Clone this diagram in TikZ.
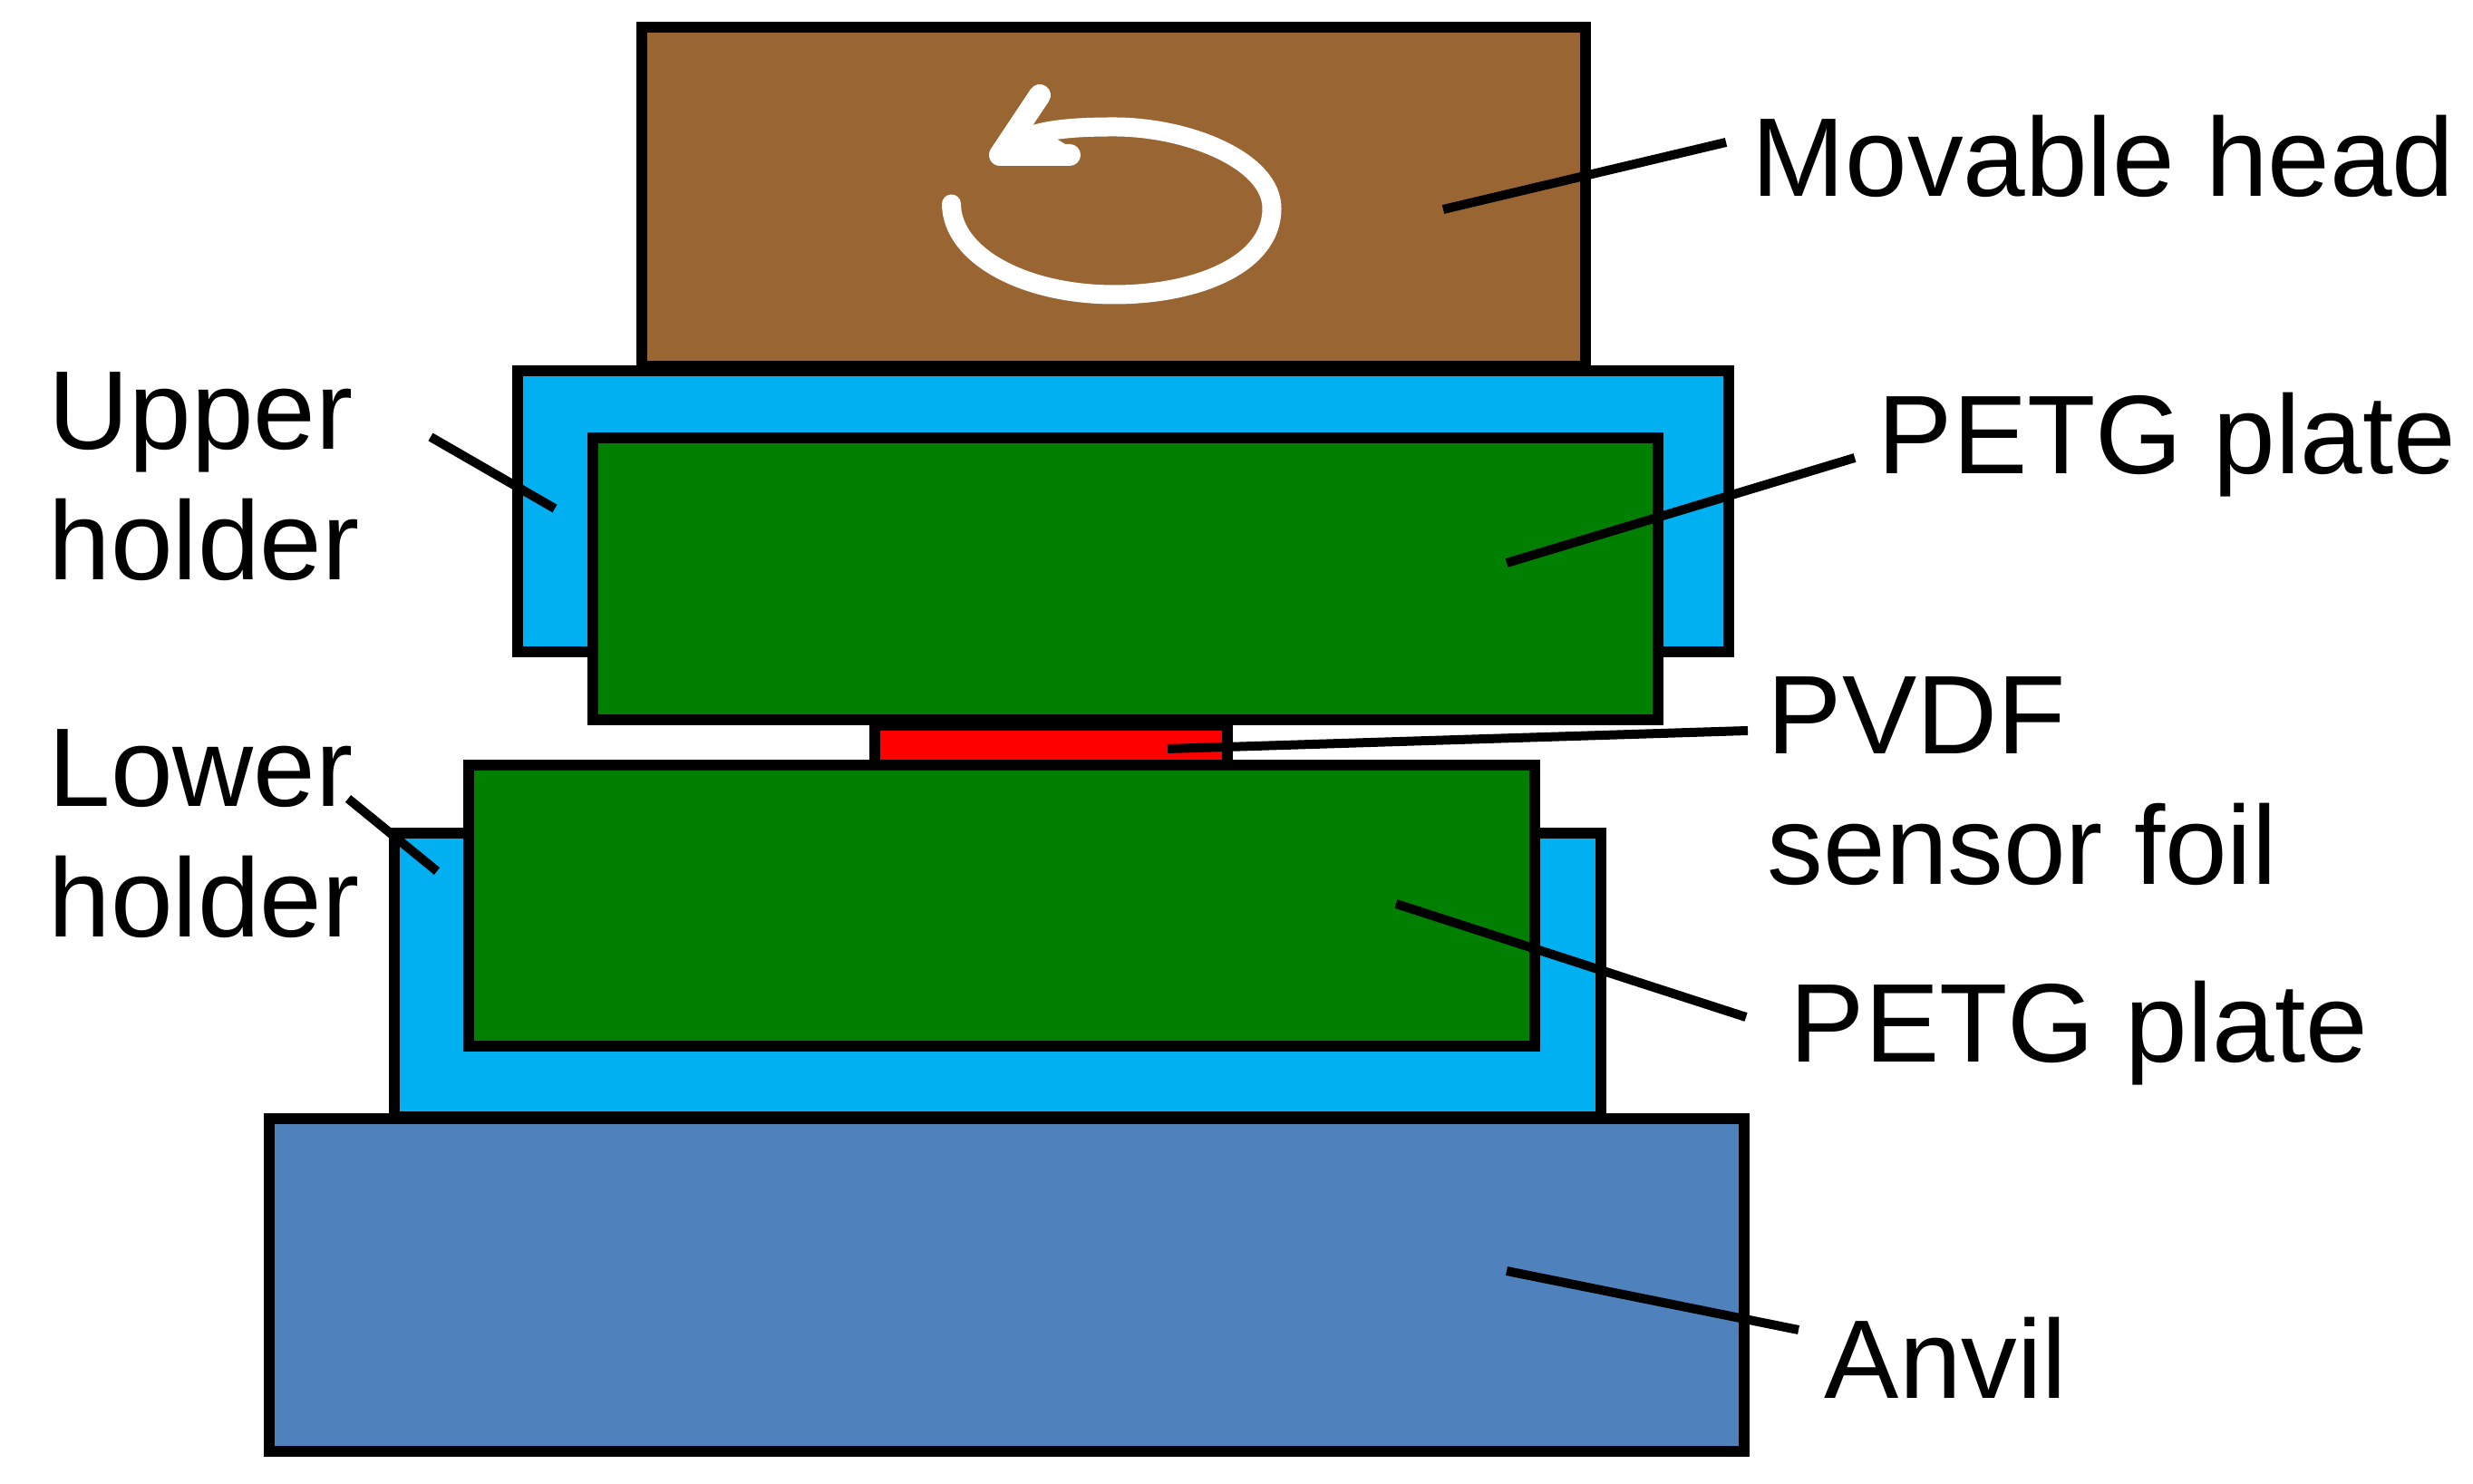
\documentclass[tikz,border=0pt]{standalone}
\usepackage{fontspec}
\setmainfont{Liberation Sans}
\usetikzlibrary{positioning}
\definecolor{headbrown}{HTML}{996633}
\definecolor{holderblue}{HTML}{00B0F0}
\definecolor{plategreen}{HTML}{007F00}
\definecolor{anvilblue}{HTML}{4F81BD}

\begin{document}
\begin{tikzpicture}

\tikzset{block/.style={draw=black,line width=.125cm,inner sep=0pt,outer sep=0pt,shape=rectangle},
lead/.style={draw=black,line width=.1cm},
textlabel/.style={font=\fontsize{35.1}{41}\selectfont,inner sep=0pt,anchor=base west,align=left},
turn/.style={draw=white,line width=.21cm,line cap=round,line join=round}}

\useasboundingbox (0,0) rectangle (27.28,16.37);

% Stack of blocks
\node (head) [block,fill=headbrown,minimum width=10.41cm,minimum height=3.74cm] at (12.285,14.20) {};
\node (upHolder) [block,fill=holderblue,minimum width=13.36cm,minimum height=3.10cm] at (12.39,10.73) {};
\node (upPlate) [block,fill=plategreen,minimum width=11.75cm,minimum height=3.11cm] at (12.415,9.985) {};
\node (foil) [block,fill=red,minimum width=3.89cm,minimum height=.44cm] at (11.595,8.15) {};
\node (loHolder) [block,fill=holderblue,minimum width=13.31cm,minimum height=3.13cm] at (11.005,5.615) {};
\node (loPlate) [block,fill=plategreen,minimum width=11.76cm,minimum height=3.10cm] at (11.05,6.38) {};
\node (anvil) [block,fill=anvilblue,minimum width=16.27cm,minimum height=3.67cm] at (11.105,2.195) {};

% Rotation arrow
\coordinate (tip) at (11.03,14.66);
\coordinate (barbUp) at (11.47,15.32);
\coordinate (barbLo) at (11.80,14.66);
\draw[turn] (10.495,14.12) .. controls (10.5,13.55) and (11.3,13.12) .. (12.29,13.12)
  .. controls (13.2,13.12) and (14.03,13.45) .. (14.03,14.07)
  .. controls (14.03,14.6) and (13.1,14.97) .. (12.29,14.97)
  .. controls (11.9,14.97) and (11.55,14.95) .. (11.3,14.85);
\draw[turn,line width=.24cm] (barbUp) -- (tip) -- (barbLo);
\fill[white] (tip) -- (11.42,14.98) -- (11.75,14.78) -- (11.6,14.66) -- cycle;

% Labels
\node (headTxt) [textlabel] at (19.32,14.20) {Movable head};
\node (upPlateTxt) [textlabel] at (20.71,11.14) {PETG plate};
\node (foilTxt) [textlabel] at (19.49,6.61) {PVDF\\sensor foil};
\node (loPlateTxt) [textlabel] at (19.74,4.65) {PETG plate};
\node (anvilTxt) [textlabel] at (20.12,0.94) {Anvil};
\node (upHolderTxt) [textlabel] at (.53,9.97) {Upper\\holder};
\node (loHolderTxt) [textlabel] at (.53,6.03) {Lower\\holder};

% Leader lines
\coordinate (headEnd) at (15.92,14.06);
\coordinate (headFree) at (19.04,14.80);
\coordinate (upPlateEnd) at (16.62,10.16);
\coordinate (upPlateFree) at (20.46,11.32);
\coordinate (foilEnd) at (12.88,8.11);
\coordinate (foilFree) at (19.28,8.31);
\coordinate (loPlateEnd) at (15.40,6.40);
\coordinate (loPlateFree) at (19.26,5.15);
\coordinate (anvilEnd) at (16.62,2.35);
\coordinate (anvilFree) at (19.84,1.70);
\coordinate (upHolderEnd) at (6.12,10.76);
\coordinate (upHolderFree) at (4.75,11.55);
\coordinate (loHolderEnd) at (4.82,6.76);
\coordinate (loHolderFree) at (3.84,7.56);
\draw[lead] (headEnd) -- (headFree);
\draw[lead] (upPlateEnd) -- (upPlateFree);
\draw[lead] (foilEnd) -- (foilFree);
\draw[lead] (loPlateEnd) -- (loPlateFree);
\draw[lead] (anvilEnd) -- (anvilFree);
\draw[lead] (upHolderEnd) -- (upHolderFree);
\draw[lead] (loHolderEnd) -- (loHolderFree);

\end{tikzpicture}
\end{document}
